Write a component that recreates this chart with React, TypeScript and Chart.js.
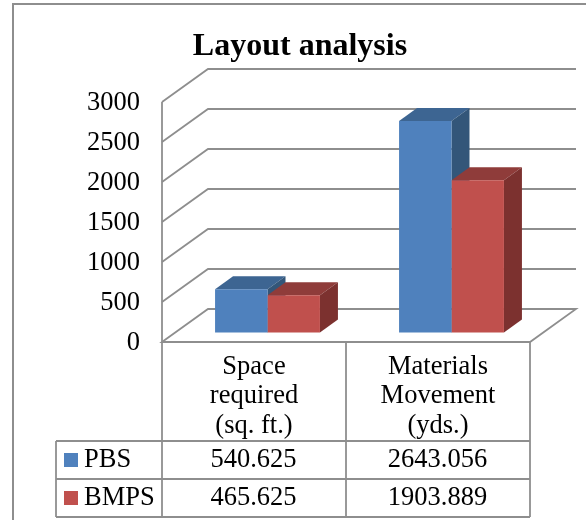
import React, { useEffect, useRef } from "react";
import { Chart, registerables } from "chart.js";

Chart.register(...registerables);

const titleText = "Layout analysis";
const categories = [["Space", "required", "(sq. ft.)"], ["Materials", "Movement", "(yds.)"]];
const seriesNames = ["PBS", "BMPS"];
const pbsValues = [540.625, 2643.056];
const bmpsValues = [465.625, 1903.889];
const gridValues = [0, 500, 1000, 1500, 2000, 2500, 3000];

const SERIF = "'Liberation Serif', 'Times New Roman', serif";
const GRID = "#8e8e8e";
const FRONT = ["#4f81bd", "#c0504d"];
const TOP = ["#3d6592", "#8f3c3a"];
const SIDE = ["#335679", "#7c312f"];

const WALL = { dx: 46, dy: -33 };
const BAR_SHIFT = { dx: 13.5, dy: -9.5 };
const BAR_DEPTH = { dx: 18, dy: -13 };

const table = { left: 56, col: [162, 346, 530], top: 441, mid: 479, bottom: 517, outerL: 13, outerT: 4 };

const wallPlugin = {
  id: "wall3d",
  afterLayout(chart: any) {
    if (chart.titleBlock) {
      chart.titleBlock.right = chart.width;
    }
  },
  beforeDatasetsDraw(chart: any) {
    const { ctx, chartArea, scales } = chart;
    const y = scales.y;
    ctx.save();
    ctx.strokeStyle = GRID;
    ctx.lineWidth = 1.8;
    for (const v of gridValues) {
      const py = y.getPixelForValue(v);
      ctx.beginPath();
      ctx.moveTo(chartArea.left, py);
      ctx.lineTo(chartArea.left + WALL.dx, py + WALL.dy);
      ctx.lineTo(chartArea.right + WALL.dx, py + WALL.dy);
      if (v === 0) {
        ctx.lineTo(chartArea.right, py);
        ctx.closePath();
      }
      ctx.stroke();
    }
    ctx.beginPath();
    ctx.moveTo(chartArea.left, y.getPixelForValue(3000));
    ctx.lineTo(chartArea.left, y.getPixelForValue(0));
    ctx.stroke();

    // 3D faces, back series first
    [0, 1].forEach((di) => {
      const meta = chart.getDatasetMeta(di);
      meta.data.forEach((bar: any) => {
        const p = bar.getProps(["x", "y", "base", "width"], true);
        const l = p.x - p.width / 2 + BAR_SHIFT.dx;
        const r = p.x + p.width / 2 + BAR_SHIFT.dx;
        const t = p.y + BAR_SHIFT.dy;
        const b = p.base + BAR_SHIFT.dy;
        ctx.fillStyle = TOP[di];
        ctx.beginPath();
        ctx.moveTo(l, t);
        ctx.lineTo(l + BAR_DEPTH.dx, t + BAR_DEPTH.dy);
        ctx.lineTo(r + BAR_DEPTH.dx, t + BAR_DEPTH.dy);
        ctx.lineTo(r, t);
        ctx.closePath();
        ctx.fill();
        ctx.fillStyle = SIDE[di];
        ctx.beginPath();
        ctx.moveTo(r, t);
        ctx.lineTo(r + BAR_DEPTH.dx, t + BAR_DEPTH.dy);
        ctx.lineTo(r + BAR_DEPTH.dx, b + BAR_DEPTH.dy);
        ctx.lineTo(r, b);
        ctx.closePath();
        ctx.fill();
      });
    });
    ctx.restore();
    ctx.save();
    ctx.translate(BAR_SHIFT.dx, BAR_SHIFT.dy);
  },
  afterDatasetsDraw(chart: any) {
    chart.ctx.restore();
  },
  afterDraw(chart: any) {
    const { ctx, chartArea } = chart;
    ctx.save();
    ctx.strokeStyle = GRID;
    const line = (a: number, b: number, c: number, d: number) => {
      ctx.beginPath();
      ctx.moveTo(a, b);
      ctx.lineTo(c, d);
      ctx.stroke();
    };
    // outer frame of the chart: runs off the right and bottom edges
    ctx.lineWidth = 2;
    ctx.beginPath();
    ctx.moveTo(table.outerL, chart.height);
    ctx.lineTo(table.outerL, table.outerT);
    ctx.lineTo(chart.width, table.outerT);
    ctx.stroke();
    ctx.lineWidth = 1.8;
    // data table
    const [c0, c1, c2] = table.col;
    line(c0, chartArea.bottom, c2, chartArea.bottom);
    line(c0, chartArea.bottom, c0, table.bottom);
    line(c1, chartArea.bottom, c1, table.bottom);
    line(c2, chartArea.bottom, c2, table.bottom);
    line(table.left, table.top, c2, table.top);
    line(table.left, table.mid, c2, table.mid);
    line(table.left, table.bottom, c2, table.bottom);
    line(table.left, table.top, table.left, table.bottom);

    ctx.font = `26.5px ${SERIF}`;
    ctx.textBaseline = "middle";
    const rows = [pbsValues, bmpsValues];
    const tops = [table.top, table.mid];
    rows.forEach((vals, i) => {
      const cy = tops[i] + 19;
      ctx.fillStyle = FRONT[i];
      ctx.fillRect(table.left + 8, cy - 7, 14, 14);
      ctx.fillStyle = "#000";
      ctx.textAlign = "left";
      ctx.fillText(seriesNames[i], table.left + 28, cy);
      ctx.textAlign = "center";
      vals.forEach((v, j) => {
        ctx.fillText(v.toFixed(3), (table.col[j] + table.col[j + 1]) / 2 - 0.5, cy);
      });
    });
    ctx.restore();
  },
};

export default function App() {
  const ref = useRef<HTMLCanvasElement>(null);
  useEffect(() => {
    const chart = new Chart(ref.current as HTMLCanvasElement, {
      type: "bar",
      data: {
        labels: categories as any,
        datasets: [
          { label: seriesNames[0], data: pbsValues, backgroundColor: FRONT[0], clip: false as any },
          { label: seriesNames[1], data: bmpsValues, backgroundColor: FRONT[1], clip: false as any },
        ],
      },
      options: {
        responsive: false,
        animation: false,
        layout: { padding: { left: 14, right: 56, top: 8, bottom: 0 } },
        datasets: { bar: { categoryPercentage: 0.57, barPercentage: 1 } },
        plugins: {
          legend: { display: false },
          tooltip: { enabled: false },
          title: {
            display: true,
            text: titleText,
            color: "#000",
            font: { family: SERIF, size: 32, weight: "bold", lineHeight: 1.2 },
            padding: { top: 20, bottom: 35.6 },
          },
        },
        scales: {
          x: {
            grid: { display: false },
            border: { display: false },
            ticks: {
              color: "#000",
              font: { family: SERIF, size: 26.5, lineHeight: 1.12 },
              padding: 2,
              maxRotation: 0,
              autoSkip: false,
            },
            afterFit: (s: any) => {
              s.height = 178;
            },
          },
          y: {
            min: 0,
            max: 3000,
            grid: { display: false, drawTicks: false },
            border: { display: false },
            ticks: {
              stepSize: 500,
              color: "#000",
              font: { family: SERIF, size: 26.5 },
              padding: 22,
              labelOffset: 1.5,
              callback: (v: any) => String(v),
            },
            afterFit: (s: any) => {
              s.width = 148;
            },
          },
        },
      } as any,
      plugins: [wallPlugin],
    });
    return () => chart.destroy();
  }, []);
  return (
    <div style={{ position: "absolute", left: 0, top: 0, width: 586, height: 520 }}>
      <canvas ref={ref} width={586} height={520} style={{ display: "block" }} />
    </div>
  );
}
